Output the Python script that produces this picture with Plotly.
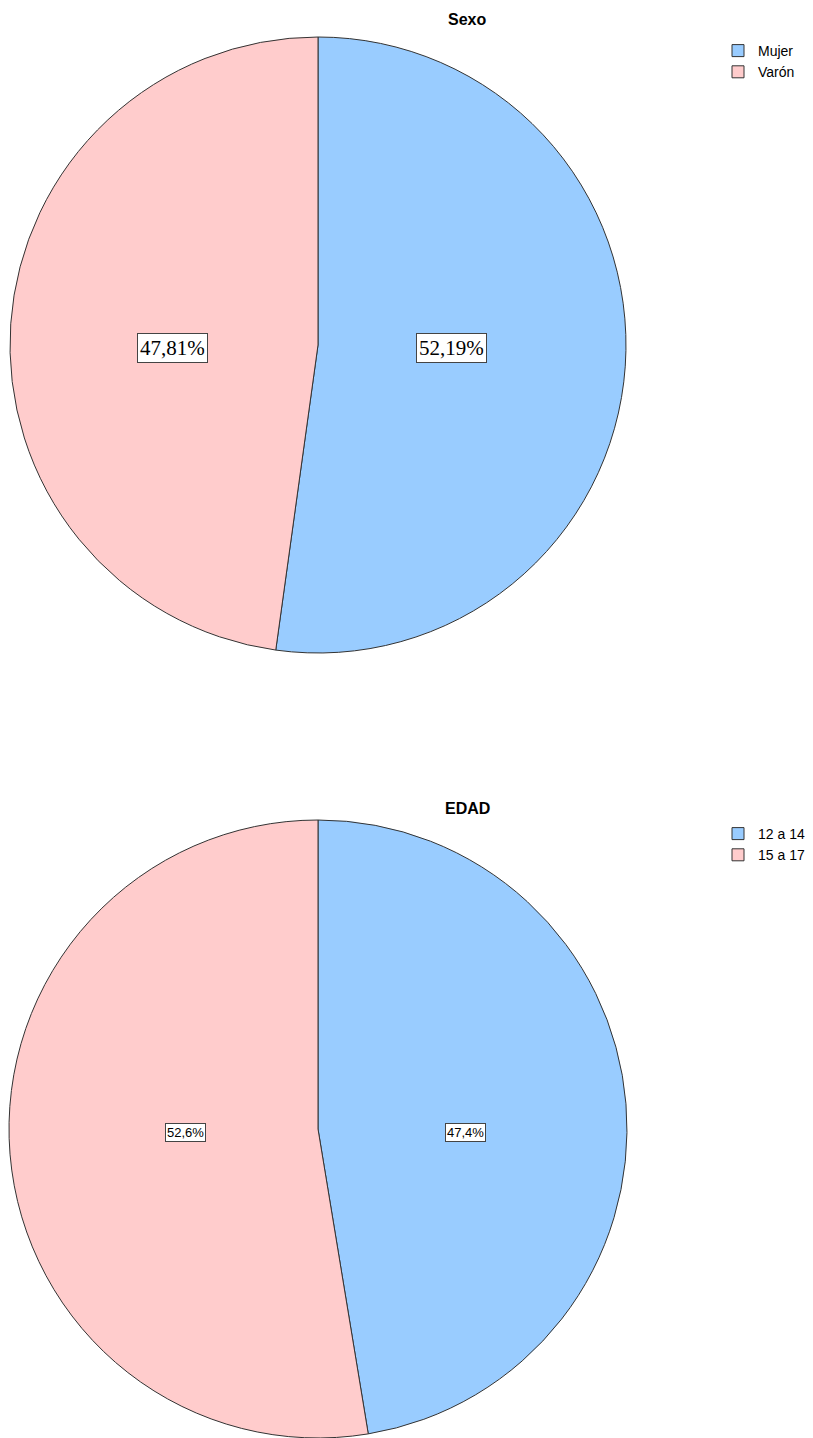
import math
import plotly.graph_objects as go

# ---- data ----
sexo_labels = ["Mujer", "Varón"]
sexo_values = [52.19, 47.81]
sexo_text = ["52,19%", "47,81%"]

edad_labels = ["12 a 14", "15 a 17"]
edad_values = [47.4, 52.6]
edad_text = ["47,4%", "52,6%"]

colors = ["#99CCFF", "#FFCCCC"]
OFF = 8  # default page body margin
W, H = 813 - OFF, 1438 - OFF

fig = go.Figure()


def px_x(x):
    return min(max((x - OFF) / W, 0), 1)


def px_y(y):
    return min(max(1 - (y - OFF) / H, 0), 1)


def add_pie(labels, values, texts, cx, cy, r, legend, title, title_y, font, pad):
    fig.add_trace(go.Pie(
        labels=labels, values=values, sort=False, direction="clockwise", rotation=0,
        marker=dict(colors=colors, line=dict(color="#333333", width=1)),
        textinfo="none", hoverinfo="label+percent",
        domain=dict(x=[px_x(cx - r), px_x(cx + r)], y=[px_y(cy + r), px_y(cy - r)]),
        legend=legend, showlegend=True,
    ))
    total = sum(values)
    cum = 0.0
    for v, t in zip(values, texts):
        mid = (cum + v / 2) / total
        cum += v
        alpha = math.pi * v / total  # half-angle
        d = 2 * r * math.sin(alpha) / (3 * alpha) * 1.07
        theta = 2 * math.pi * mid
        x = cx + d * math.sin(theta)
        fig.add_annotation(
            x=px_x(x), y=px_y(cy + 3), xref="paper", yref="paper",
            xanchor="center", yanchor="middle",
            text=t, showarrow=False, font=font,
            bgcolor="white", bordercolor="#444444", borderwidth=1, borderpad=pad,
        )
    fig.add_annotation(
        x=px_x(467), y=px_y(title_y), xref="paper", yref="paper", text=f"<b>{title}</b>",
        xanchor="center", yanchor="middle",
        showarrow=False, font=dict(family="Liberation Sans, Arial", size=16, color="black"),
    )


add_pie(sexo_labels, sexo_values, sexo_text, 318, 345, 308, "legend", "Sexo", 20,
        dict(family="Liberation Serif, Times New Roman", size=21, color="black"), 2)
add_pie(edad_labels, edad_values, edad_text, 318, 1129, 309, "legend2", "EDAD", 808,
        dict(family="Liberation Sans, Arial", size=13, color="black"), 1)

leg_common = dict(font=dict(family="Liberation Sans, Arial", size=14, color="black"),
                  bgcolor="rgba(0,0,0,0)", xanchor="left", yanchor="top",
                  itemclick=False, tracegroupgap=0)
fig.update_layout(
    width=W, height=H, margin=dict(l=0, r=0, t=0, b=0),
    paper_bgcolor="white", plot_bgcolor="white",
    legend=dict(x=px_x(718), y=px_y(35), **leg_common),
    legend2=dict(x=px_x(718), y=px_y(818), **leg_common),
)

fig.write_html("out.html")
